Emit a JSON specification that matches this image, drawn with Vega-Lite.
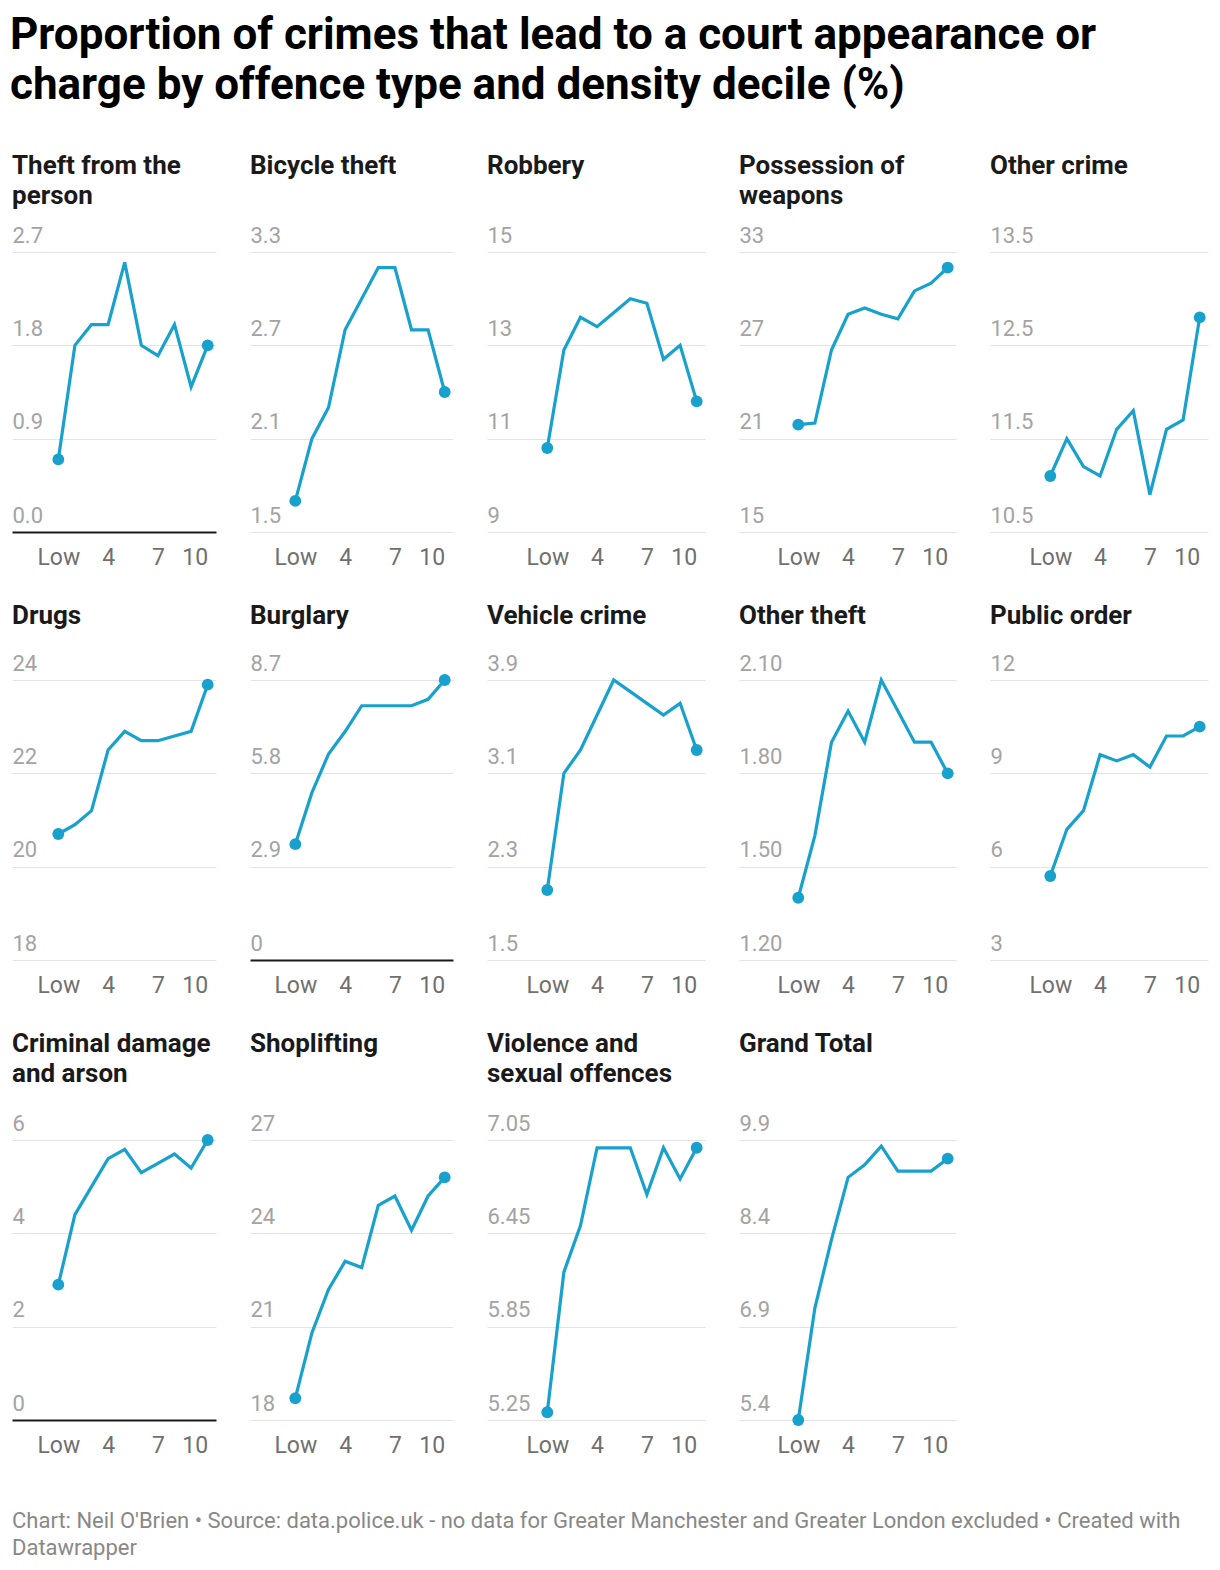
{
  "$schema": "https://vega.github.io/schema/vega-lite/v6.json",
  "background": "white",
  "padding": {"left": 10, "top": 14, "right": 5, "bottom": 5},
  "datasets": {
    "crime": [
      {"panel": "Theft from the person", "decile": 1, "value": 0.7},
      {"panel": "Theft from the person", "decile": 2, "value": 1.8},
      {"panel": "Theft from the person", "decile": 3, "value": 2.0},
      {"panel": "Theft from the person", "decile": 4, "value": 2.0},
      {"panel": "Theft from the person", "decile": 5, "value": 2.6},
      {"panel": "Theft from the person", "decile": 6, "value": 1.8},
      {"panel": "Theft from the person", "decile": 7, "value": 1.7},
      {"panel": "Theft from the person", "decile": 8, "value": 2.0},
      {"panel": "Theft from the person", "decile": 9, "value": 1.4},
      {"panel": "Theft from the person", "decile": 10, "value": 1.8},
      {"panel": "Bicycle theft", "decile": 1, "value": 1.7},
      {"panel": "Bicycle theft", "decile": 2, "value": 2.1},
      {"panel": "Bicycle theft", "decile": 3, "value": 2.3},
      {"panel": "Bicycle theft", "decile": 4, "value": 2.8},
      {"panel": "Bicycle theft", "decile": 5, "value": 3.0},
      {"panel": "Bicycle theft", "decile": 6, "value": 3.2},
      {"panel": "Bicycle theft", "decile": 7, "value": 3.2},
      {"panel": "Bicycle theft", "decile": 8, "value": 2.8},
      {"panel": "Bicycle theft", "decile": 9, "value": 2.8},
      {"panel": "Bicycle theft", "decile": 10, "value": 2.4},
      {"panel": "Robbery", "decile": 1, "value": 10.8},
      {"panel": "Robbery", "decile": 2, "value": 12.9},
      {"panel": "Robbery", "decile": 3, "value": 13.6},
      {"panel": "Robbery", "decile": 4, "value": 13.4},
      {"panel": "Robbery", "decile": 5, "value": 13.7},
      {"panel": "Robbery", "decile": 6, "value": 14.0},
      {"panel": "Robbery", "decile": 7, "value": 13.9},
      {"panel": "Robbery", "decile": 8, "value": 12.7},
      {"panel": "Robbery", "decile": 9, "value": 13.0},
      {"panel": "Robbery", "decile": 10, "value": 11.8},
      {"panel": "Possession of weapons", "decile": 1, "value": 21.9},
      {"panel": "Possession of weapons", "decile": 2, "value": 22.0},
      {"panel": "Possession of weapons", "decile": 3, "value": 26.7},
      {"panel": "Possession of weapons", "decile": 4, "value": 29.0},
      {"panel": "Possession of weapons", "decile": 5, "value": 29.4},
      {"panel": "Possession of weapons", "decile": 6, "value": 29.0},
      {"panel": "Possession of weapons", "decile": 7, "value": 28.7},
      {"panel": "Possession of weapons", "decile": 8, "value": 30.5},
      {"panel": "Possession of weapons", "decile": 9, "value": 31.0},
      {"panel": "Possession of weapons", "decile": 10, "value": 32.0},
      {"panel": "Other crime", "decile": 1, "value": 11.1},
      {"panel": "Other crime", "decile": 2, "value": 11.5},
      {"panel": "Other crime", "decile": 3, "value": 11.2},
      {"panel": "Other crime", "decile": 4, "value": 11.1},
      {"panel": "Other crime", "decile": 5, "value": 11.6},
      {"panel": "Other crime", "decile": 6, "value": 11.8},
      {"panel": "Other crime", "decile": 7, "value": 10.9},
      {"panel": "Other crime", "decile": 8, "value": 11.6},
      {"panel": "Other crime", "decile": 9, "value": 11.7},
      {"panel": "Other crime", "decile": 10, "value": 12.8},
      {"panel": "Drugs", "decile": 1, "value": 20.7},
      {"panel": "Drugs", "decile": 2, "value": 20.9},
      {"panel": "Drugs", "decile": 3, "value": 21.2},
      {"panel": "Drugs", "decile": 4, "value": 22.5},
      {"panel": "Drugs", "decile": 5, "value": 22.9},
      {"panel": "Drugs", "decile": 6, "value": 22.7},
      {"panel": "Drugs", "decile": 7, "value": 22.7},
      {"panel": "Drugs", "decile": 8, "value": 22.8},
      {"panel": "Drugs", "decile": 9, "value": 22.9},
      {"panel": "Drugs", "decile": 10, "value": 23.9},
      {"panel": "Burglary", "decile": 1, "value": 3.6},
      {"panel": "Burglary", "decile": 2, "value": 5.2},
      {"panel": "Burglary", "decile": 3, "value": 6.4},
      {"panel": "Burglary", "decile": 4, "value": 7.1},
      {"panel": "Burglary", "decile": 5, "value": 7.9},
      {"panel": "Burglary", "decile": 6, "value": 7.9},
      {"panel": "Burglary", "decile": 7, "value": 7.9},
      {"panel": "Burglary", "decile": 8, "value": 7.9},
      {"panel": "Burglary", "decile": 9, "value": 8.1},
      {"panel": "Burglary", "decile": 10, "value": 8.7},
      {"panel": "Vehicle crime", "decile": 1, "value": 2.1},
      {"panel": "Vehicle crime", "decile": 2, "value": 3.1},
      {"panel": "Vehicle crime", "decile": 3, "value": 3.3},
      {"panel": "Vehicle crime", "decile": 4, "value": 3.6},
      {"panel": "Vehicle crime", "decile": 5, "value": 3.9},
      {"panel": "Vehicle crime", "decile": 6, "value": 3.8},
      {"panel": "Vehicle crime", "decile": 7, "value": 3.7},
      {"panel": "Vehicle crime", "decile": 8, "value": 3.6},
      {"panel": "Vehicle crime", "decile": 9, "value": 3.7},
      {"panel": "Vehicle crime", "decile": 10, "value": 3.3},
      {"panel": "Other theft", "decile": 1, "value": 1.4},
      {"panel": "Other theft", "decile": 2, "value": 1.6},
      {"panel": "Other theft", "decile": 3, "value": 1.9},
      {"panel": "Other theft", "decile": 4, "value": 2.0},
      {"panel": "Other theft", "decile": 5, "value": 1.9},
      {"panel": "Other theft", "decile": 6, "value": 2.1},
      {"panel": "Other theft", "decile": 7, "value": 2.0},
      {"panel": "Other theft", "decile": 8, "value": 1.9},
      {"panel": "Other theft", "decile": 9, "value": 1.9},
      {"panel": "Other theft", "decile": 10, "value": 1.8},
      {"panel": "Public order", "decile": 1, "value": 5.7},
      {"panel": "Public order", "decile": 2, "value": 7.2},
      {"panel": "Public order", "decile": 3, "value": 7.8},
      {"panel": "Public order", "decile": 4, "value": 9.6},
      {"panel": "Public order", "decile": 5, "value": 9.4},
      {"panel": "Public order", "decile": 6, "value": 9.6},
      {"panel": "Public order", "decile": 7, "value": 9.2},
      {"panel": "Public order", "decile": 8, "value": 10.2},
      {"panel": "Public order", "decile": 9, "value": 10.2},
      {"panel": "Public order", "decile": 10, "value": 10.5},
      {"panel": "Criminal damage and arson", "decile": 1, "value": 2.9},
      {"panel": "Criminal damage and arson", "decile": 2, "value": 4.4},
      {"panel": "Criminal damage and arson", "decile": 3, "value": 5.0},
      {"panel": "Criminal damage and arson", "decile": 4, "value": 5.6},
      {"panel": "Criminal damage and arson", "decile": 5, "value": 5.8},
      {"panel": "Criminal damage and arson", "decile": 6, "value": 5.3},
      {"panel": "Criminal damage and arson", "decile": 7, "value": 5.5},
      {"panel": "Criminal damage and arson", "decile": 8, "value": 5.7},
      {"panel": "Criminal damage and arson", "decile": 9, "value": 5.4},
      {"panel": "Criminal damage and arson", "decile": 10, "value": 6.0},
      {"panel": "Shoplifting", "decile": 1, "value": 18.7},
      {"panel": "Shoplifting", "decile": 2, "value": 20.8},
      {"panel": "Shoplifting", "decile": 3, "value": 22.2},
      {"panel": "Shoplifting", "decile": 4, "value": 23.1},
      {"panel": "Shoplifting", "decile": 5, "value": 22.9},
      {"panel": "Shoplifting", "decile": 6, "value": 24.9},
      {"panel": "Shoplifting", "decile": 7, "value": 25.2},
      {"panel": "Shoplifting", "decile": 8, "value": 24.1},
      {"panel": "Shoplifting", "decile": 9, "value": 25.2},
      {"panel": "Shoplifting", "decile": 10, "value": 25.8},
      {"panel": "Violence and sexual offences", "decile": 1, "value": 5.3},
      {"panel": "Violence and sexual offences", "decile": 2, "value": 6.2},
      {"panel": "Violence and sexual offences", "decile": 3, "value": 6.5},
      {"panel": "Violence and sexual offences", "decile": 4, "value": 7.0},
      {"panel": "Violence and sexual offences", "decile": 5, "value": 7.0},
      {"panel": "Violence and sexual offences", "decile": 6, "value": 7.0},
      {"panel": "Violence and sexual offences", "decile": 7, "value": 6.7},
      {"panel": "Violence and sexual offences", "decile": 8, "value": 7.0},
      {"panel": "Violence and sexual offences", "decile": 9, "value": 6.8},
      {"panel": "Violence and sexual offences", "decile": 10, "value": 7.0},
      {"panel": "Grand Total", "decile": 1, "value": 5.4},
      {"panel": "Grand Total", "decile": 2, "value": 7.2},
      {"panel": "Grand Total", "decile": 3, "value": 8.3},
      {"panel": "Grand Total", "decile": 4, "value": 9.3},
      {"panel": "Grand Total", "decile": 5, "value": 9.5},
      {"panel": "Grand Total", "decile": 6, "value": 9.8},
      {"panel": "Grand Total", "decile": 7, "value": 9.4},
      {"panel": "Grand Total", "decile": 8, "value": 9.4},
      {"panel": "Grand Total", "decile": 9, "value": 9.4},
      {"panel": "Grand Total", "decile": 10, "value": 9.6}
    ]
  },
  "data": {"name": "crime"},
  "title": {
    "text": ["Proportion of crimes that lead to a court appearance or", "charge by offence type and density decile (%)"],
    "fontSize": 44,
    "lineHeight": 50,
    "color": "#000000",
    "offset": 45,
    "dx": -2
  },
  "config": {
    "view": {"stroke": null},
    "font": "Roboto",
    "title": {"font": "Roboto", "fontSize": 26, "fontWeight": "bold", "color": "#1a1a1a", "anchor": "start", "lineHeight": 30, "offset": 24},
    "axis": {"domain": false, "ticks": false, "tickSize": 0, "labelFont": "Roboto", "labelFontSize": 22, "minExtent": 0, "labelOverlap": false, "labelFlush": false, "labelBound": false},
    "axisX": {"grid": false, "labelColor": "#707070", "labelFontSize": 23, "labelPadding": 32, "labelBaseline": "alphabetic"},
    "axisY": {"grid": true, "gridColor": "#e3e3e3", "gridWidth": 1, "labelColor": "#a3a3a3", "labelAlign": "left", "labelPadding": 0, "labelBaseline": "alphabetic", "labelOffset": -10},
    "line": {"color": "#18a1cd", "strokeWidth": 3.2},
    "point": {"color": "#18a1cd", "filled": true, "size": 140, "opacity": 1}
  },
  "spacing": 34,
  "vconcat": [
    {
      "bounds": "flush",
      "spacing": 34,
      "hconcat": [
        {
          "width": 204, "height": 280,
          "title": {"text": ["Theft from the", "person"], "offset": 15},
          "transform": [{"filter": {"field": "panel", "equal": "Theft from the person"}}],
          "encoding": {
            "x": {"field": "decile", "type": "quantitative", "title": null, "scale": {"domain": [-1.79, 10.5], "nice": false, "zero": false}, "axis": {"values": [1, 4, 7, 10], "labelExpr": "datum.value == 1 ? 'Low' : datum.label", "labelAlign": {"condition": {"test": "datum.value == 10", "value": "right"}, "value": "center"}}},
            "y": {"field": "value", "type": "quantitative", "title": null, "scale": {"domain": [0, 2.7], "nice": false, "zero": false}, "axis": {"values": [0, 0.9, 1.8, 2.7], "format": ".1f", "gridColor": {"condition": {"test": "datum.value == 0", "value": "#1a1a1a"}, "value": "#e3e3e3"}, "gridWidth": {"condition": {"test": "datum.value == 0", "value": 2}, "value": 1}}}
          },
          "layer": [
            {"mark": {"type": "line"}},
            {"transform": [{"filter": "datum.decile == 1 || datum.decile == 10"}], "mark": {"type": "point"}}
          ]
        },
        {
          "width": 203, "height": 280,
          "title": {"text": "Bicycle theft", "offset": 45},
          "transform": [{"filter": {"field": "panel", "equal": "Bicycle theft"}}],
          "encoding": {
            "x": {"field": "decile", "type": "quantitative", "title": null, "scale": {"domain": [-1.73, 10.5], "nice": false, "zero": false}, "axis": {"values": [1, 4, 7, 10], "labelExpr": "datum.value == 1 ? 'Low' : datum.label", "labelAlign": {"condition": {"test": "datum.value == 10", "value": "right"}, "value": "center"}}},
            "y": {"field": "value", "type": "quantitative", "title": null, "scale": {"domain": [1.5, 3.3], "nice": false, "zero": false}, "axis": {"values": [1.5, 2.1, 2.7, 3.3], "format": ".1f"}}
          },
          "layer": [
            {"mark": {"type": "line"}},
            {"transform": [{"filter": "datum.decile == 1 || datum.decile == 10"}], "mark": {"type": "point"}}
          ]
        },
        {
          "width": 218, "height": 280,
          "title": {"text": "Robbery", "offset": 45},
          "transform": [{"filter": {"field": "panel", "equal": "Robbery"}}],
          "encoding": {
            "x": {"field": "decile", "type": "quantitative", "title": null, "scale": {"domain": [-2.63, 10.5], "nice": false, "zero": false}, "axis": {"values": [1, 4, 7, 10], "labelExpr": "datum.value == 1 ? 'Low' : datum.label", "labelAlign": {"condition": {"test": "datum.value == 10", "value": "right"}, "value": "center"}}},
            "y": {"field": "value", "type": "quantitative", "title": null, "scale": {"domain": [9, 15], "nice": false, "zero": false}, "axis": {"values": [9, 11, 13, 15], "format": "d"}}
          },
          "layer": [
            {"mark": {"type": "line"}},
            {"transform": [{"filter": "datum.decile == 1 || datum.decile == 10"}], "mark": {"type": "point"}}
          ]
        },
        {
          "width": 217, "height": 280,
          "title": {"text": ["Possession of", "weapons"], "offset": 15},
          "transform": [{"filter": {"field": "panel", "equal": "Possession of weapons"}}],
          "encoding": {
            "x": {"field": "decile", "type": "quantitative", "title": null, "scale": {"domain": [-2.57, 10.5], "nice": false, "zero": false}, "axis": {"values": [1, 4, 7, 10], "labelExpr": "datum.value == 1 ? 'Low' : datum.label", "labelAlign": {"condition": {"test": "datum.value == 10", "value": "right"}, "value": "center"}}},
            "y": {"field": "value", "type": "quantitative", "title": null, "scale": {"domain": [15, 33], "nice": false, "zero": false}, "axis": {"values": [15, 21, 27, 33], "format": "d"}}
          },
          "layer": [
            {"mark": {"type": "line"}},
            {"transform": [{"filter": "datum.decile == 1 || datum.decile == 10"}], "mark": {"type": "point"}}
          ]
        },
        {
          "width": 218, "height": 280,
          "title": {"text": "Other crime", "offset": 45},
          "transform": [{"filter": {"field": "panel", "equal": "Other crime"}}],
          "encoding": {
            "x": {"field": "decile", "type": "quantitative", "title": null, "scale": {"domain": [-2.63, 10.5], "nice": false, "zero": false}, "axis": {"values": [1, 4, 7, 10], "labelExpr": "datum.value == 1 ? 'Low' : datum.label", "labelAlign": {"condition": {"test": "datum.value == 10", "value": "right"}, "value": "center"}}},
            "y": {"field": "value", "type": "quantitative", "title": null, "scale": {"domain": [10.5, 13.5], "nice": false, "zero": false}, "axis": {"values": [10.5, 11.5, 12.5, 13.5], "format": ".1f"}}
          },
          "layer": [
            {"mark": {"type": "line"}},
            {"transform": [{"filter": "datum.decile == 1 || datum.decile == 10"}], "mark": {"type": "point"}}
          ]
        }
      ]
    },
    {
      "bounds": "flush",
      "spacing": 34,
      "hconcat": [
        {
          "width": 204, "height": 280,
          "title": {"text": "Drugs", "offset": 23},
          "transform": [{"filter": {"field": "panel", "equal": "Drugs"}}],
          "encoding": {
            "x": {"field": "decile", "type": "quantitative", "title": null, "scale": {"domain": [-1.79, 10.5], "nice": false, "zero": false}, "axis": {"values": [1, 4, 7, 10], "labelExpr": "datum.value == 1 ? 'Low' : datum.label", "labelAlign": {"condition": {"test": "datum.value == 10", "value": "right"}, "value": "center"}}},
            "y": {"field": "value", "type": "quantitative", "title": null, "scale": {"domain": [18, 24], "nice": false, "zero": false}, "axis": {"values": [18, 20, 22, 24], "format": "d"}}
          },
          "layer": [
            {"mark": {"type": "line"}},
            {"transform": [{"filter": "datum.decile == 1 || datum.decile == 10"}], "mark": {"type": "point"}}
          ]
        },
        {
          "width": 203, "height": 280,
          "title": {"text": "Burglary", "offset": 23},
          "transform": [{"filter": {"field": "panel", "equal": "Burglary"}}],
          "encoding": {
            "x": {"field": "decile", "type": "quantitative", "title": null, "scale": {"domain": [-1.73, 10.5], "nice": false, "zero": false}, "axis": {"values": [1, 4, 7, 10], "labelExpr": "datum.value == 1 ? 'Low' : datum.label", "labelAlign": {"condition": {"test": "datum.value == 10", "value": "right"}, "value": "center"}}},
            "y": {"field": "value", "type": "quantitative", "title": null, "scale": {"domain": [0, 8.7], "nice": false, "zero": false}, "axis": {"values": [0, 2.9, 5.8, 8.7], "labelExpr": "datum.value == 0 ? '0' : format(datum.value, '.1f')", "gridColor": {"condition": {"test": "datum.value == 0", "value": "#1a1a1a"}, "value": "#e3e3e3"}, "gridWidth": {"condition": {"test": "datum.value == 0", "value": 2}, "value": 1}}}
          },
          "layer": [
            {"mark": {"type": "line"}},
            {"transform": [{"filter": "datum.decile == 1 || datum.decile == 10"}], "mark": {"type": "point"}}
          ]
        },
        {
          "width": 218, "height": 280,
          "title": {"text": "Vehicle crime", "offset": 23},
          "transform": [{"filter": {"field": "panel", "equal": "Vehicle crime"}}],
          "encoding": {
            "x": {"field": "decile", "type": "quantitative", "title": null, "scale": {"domain": [-2.63, 10.5], "nice": false, "zero": false}, "axis": {"values": [1, 4, 7, 10], "labelExpr": "datum.value == 1 ? 'Low' : datum.label", "labelAlign": {"condition": {"test": "datum.value == 10", "value": "right"}, "value": "center"}}},
            "y": {"field": "value", "type": "quantitative", "title": null, "scale": {"domain": [1.5, 3.9], "nice": false, "zero": false}, "axis": {"values": [1.5, 2.3, 3.1, 3.9], "format": ".1f"}}
          },
          "layer": [
            {"mark": {"type": "line"}},
            {"transform": [{"filter": "datum.decile == 1 || datum.decile == 10"}], "mark": {"type": "point"}}
          ]
        },
        {
          "width": 217, "height": 280,
          "title": {"text": "Other theft", "offset": 23},
          "transform": [{"filter": {"field": "panel", "equal": "Other theft"}}],
          "encoding": {
            "x": {"field": "decile", "type": "quantitative", "title": null, "scale": {"domain": [-2.57, 10.5], "nice": false, "zero": false}, "axis": {"values": [1, 4, 7, 10], "labelExpr": "datum.value == 1 ? 'Low' : datum.label", "labelAlign": {"condition": {"test": "datum.value == 10", "value": "right"}, "value": "center"}}},
            "y": {"field": "value", "type": "quantitative", "title": null, "scale": {"domain": [1.2, 2.1], "nice": false, "zero": false}, "axis": {"values": [1.2, 1.5, 1.8, 2.1], "format": ".2f"}}
          },
          "layer": [
            {"mark": {"type": "line"}},
            {"transform": [{"filter": "datum.decile == 1 || datum.decile == 10"}], "mark": {"type": "point"}}
          ]
        },
        {
          "width": 218, "height": 280,
          "title": {"text": "Public order", "offset": 23},
          "transform": [{"filter": {"field": "panel", "equal": "Public order"}}],
          "encoding": {
            "x": {"field": "decile", "type": "quantitative", "title": null, "scale": {"domain": [-2.63, 10.5], "nice": false, "zero": false}, "axis": {"values": [1, 4, 7, 10], "labelExpr": "datum.value == 1 ? 'Low' : datum.label", "labelAlign": {"condition": {"test": "datum.value == 10", "value": "right"}, "value": "center"}}},
            "y": {"field": "value", "type": "quantitative", "title": null, "scale": {"domain": [3, 12], "nice": false, "zero": false}, "axis": {"values": [3, 6, 9, 12], "format": "d"}}
          },
          "layer": [
            {"mark": {"type": "line"}},
            {"transform": [{"filter": "datum.decile == 1 || datum.decile == 10"}], "mark": {"type": "point"}}
          ]
        }
      ]
    },
    {
      "bounds": "flush",
      "spacing": 34,
      "title": {
        "text": ["Chart: Neil O'Brien • Source: data.police.uk - no data for Greater Manchester and Greater London excluded • Created with", "Datawrapper"],
        "orient": "bottom",
        "anchor": "start",
        "fontSize": 22,
        "fontWeight": "normal",
        "color": "#888888",
        "lineHeight": 27,
        "offset": 54
      },
      "hconcat": [
        {
          "width": 204, "height": 280,
          "title": {"text": ["Criminal damage", "and arson"], "offset": 25},
          "transform": [{"filter": {"field": "panel", "equal": "Criminal damage and arson"}}],
          "encoding": {
            "x": {"field": "decile", "type": "quantitative", "title": null, "scale": {"domain": [-1.79, 10.5], "nice": false, "zero": false}, "axis": {"values": [1, 4, 7, 10], "labelExpr": "datum.value == 1 ? 'Low' : datum.label", "labelAlign": {"condition": {"test": "datum.value == 10", "value": "right"}, "value": "center"}}},
            "y": {"field": "value", "type": "quantitative", "title": null, "scale": {"domain": [0, 6], "nice": false, "zero": false}, "axis": {"values": [0, 2, 4, 6], "format": "d", "gridColor": {"condition": {"test": "datum.value == 0", "value": "#1a1a1a"}, "value": "#e3e3e3"}, "gridWidth": {"condition": {"test": "datum.value == 0", "value": 2}, "value": 1}}}
          },
          "layer": [
            {"mark": {"type": "line"}},
            {"transform": [{"filter": "datum.decile == 1 || datum.decile == 10"}], "mark": {"type": "point"}}
          ]
        },
        {
          "width": 203, "height": 280,
          "title": {"text": "Shoplifting", "offset": 55},
          "transform": [{"filter": {"field": "panel", "equal": "Shoplifting"}}],
          "encoding": {
            "x": {"field": "decile", "type": "quantitative", "title": null, "scale": {"domain": [-1.73, 10.5], "nice": false, "zero": false}, "axis": {"values": [1, 4, 7, 10], "labelExpr": "datum.value == 1 ? 'Low' : datum.label", "labelAlign": {"condition": {"test": "datum.value == 10", "value": "right"}, "value": "center"}}},
            "y": {"field": "value", "type": "quantitative", "title": null, "scale": {"domain": [18, 27], "nice": false, "zero": false}, "axis": {"values": [18, 21, 24, 27], "format": "d"}}
          },
          "layer": [
            {"mark": {"type": "line"}},
            {"transform": [{"filter": "datum.decile == 1 || datum.decile == 10"}], "mark": {"type": "point"}}
          ]
        },
        {
          "width": 218, "height": 280,
          "title": {"text": ["Violence and", "sexual offences"], "offset": 25},
          "transform": [{"filter": {"field": "panel", "equal": "Violence and sexual offences"}}],
          "encoding": {
            "x": {"field": "decile", "type": "quantitative", "title": null, "scale": {"domain": [-2.63, 10.5], "nice": false, "zero": false}, "axis": {"values": [1, 4, 7, 10], "labelExpr": "datum.value == 1 ? 'Low' : datum.label", "labelAlign": {"condition": {"test": "datum.value == 10", "value": "right"}, "value": "center"}}},
            "y": {"field": "value", "type": "quantitative", "title": null, "scale": {"domain": [5.25, 7.05], "nice": false, "zero": false}, "axis": {"values": [5.25, 5.85, 6.45, 7.05], "format": ".2f"}}
          },
          "layer": [
            {"mark": {"type": "line"}},
            {"transform": [{"filter": "datum.decile == 1 || datum.decile == 10"}], "mark": {"type": "point"}}
          ]
        },
        {
          "width": 217, "height": 280,
          "title": {"text": "Grand Total", "offset": 55},
          "transform": [{"filter": {"field": "panel", "equal": "Grand Total"}}],
          "encoding": {
            "x": {"field": "decile", "type": "quantitative", "title": null, "scale": {"domain": [-2.57, 10.5], "nice": false, "zero": false}, "axis": {"values": [1, 4, 7, 10], "labelExpr": "datum.value == 1 ? 'Low' : datum.label", "labelAlign": {"condition": {"test": "datum.value == 10", "value": "right"}, "value": "center"}}},
            "y": {"field": "value", "type": "quantitative", "title": null, "scale": {"domain": [5.4, 9.9], "nice": false, "zero": false}, "axis": {"values": [5.4, 6.9, 8.4, 9.9], "format": ".1f"}}
          },
          "layer": [
            {"mark": {"type": "line"}},
            {"transform": [{"filter": "datum.decile == 1 || datum.decile == 10"}], "mark": {"type": "point"}}
          ]
        }
      ]
    }
  ]
}
